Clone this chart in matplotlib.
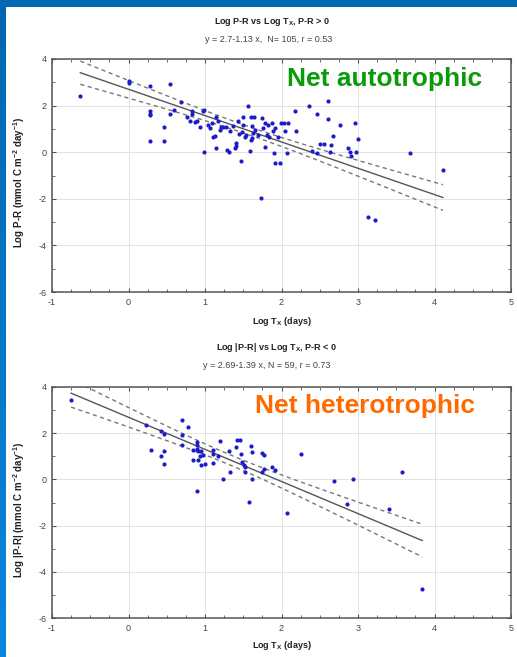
import numpy as np
import matplotlib
matplotlib.use("Agg")
import matplotlib.pyplot as plt
from matplotlib.ticker import MultipleLocator

plt.rcParams["font.family"] = ["Liberation Sans", "DejaVu Sans"]
plt.rcParams["axes.unicode_minus"] = False

# ---- data ----
# P-R > 0 (net autotrophic), N = 105
auto_x = [-0.63, 0.00, 0.00, 0.28, 0.28, 0.28, 0.28, 0.28, 0.46, 0.46,
          0.54, 0.54, 0.59, 0.69, 0.76, 0.80, 0.83, 0.83, 0.87, 0.93,
          0.97, 0.99, 0.99, 1.04, 1.09, 1.10, 1.13, 1.15, 1.15, 1.17,
          1.19, 1.21, 1.24, 1.27, 1.29, 1.31, 1.33, 1.36, 1.39, 1.40,
          1.41, 1.43, 1.45, 1.47, 1.49, 1.50, 1.50, 1.52, 1.53, 1.56,
          1.59, 1.60, 1.60, 1.61, 1.62, 1.63, 1.64, 1.65, 1.69, 1.73,
          1.74, 1.76, 1.78, 1.79, 1.81, 1.82, 1.84, 1.87, 1.89, 1.90,
          1.91, 1.92, 1.98, 1.95, 1.99, 2.03, 2.04, 2.07, 2.17, 2.19,
          2.36, 2.40, 2.46, 2.46, 2.50, 2.55, 2.61, 2.61, 2.63, 2.65,
          2.67, 2.77, 2.87, 2.90, 2.91, 2.97, 2.96, 3.00, 3.68, 4.11,
          3.13, 3.22, 1.07, 0.90, 2.09]
auto_y = [2.42, 3.05, 2.95, 2.85, 1.75, 1.65, 1.58, 0.50, 1.10, 0.50,
          2.91, 1.63, 1.82, 2.16, 1.49, 1.34, 1.75, 1.65, 1.30, 1.10,
          1.75, 1.80, 0.02, 1.17, 1.27, 0.67, 0.70, 1.53, 0.17, 1.32,
          0.96, 1.10, 1.07, 1.10, 0.10, 0.03, 0.89, 1.13, 0.17, 0.27,
          0.41, 1.32, 0.79, -0.36, 0.86, 1.53, 1.17, 0.67, 0.74, 1.99,
          0.07, 1.53, 0.53, 0.60, 1.13, 0.82, 1.53, 0.96, 0.74, -1.98,
          1.46, 1.03, 1.24, 0.24, 0.74, 1.17, 0.67, 1.24, 0.89, -0.04,
          1.03, -0.47, -0.47, 0.67, 1.24, 1.27, 0.89, -0.04, 1.75, 0.89,
          1.99, 0.07, -0.04, 1.63, 0.36, 0.36, 2.21, 1.43, 0.03, 0.31,
          0.70, 1.17, 0.20, 0.03, -0.16, 0.03, 1.24, 0.57, -0.04, -0.76,
          -2.80, -2.91, 1.06, 1.36, 1.27]

# P-R < 0 (net heterotrophic), N = 59
hetero_x = [-0.75, 0.23, 0.29, 0.43, 0.46, 0.47, 0.43, 0.47, 0.70, 0.70,
            0.70, 0.78, 0.84, 0.84, 0.89, 0.89, 0.90, 0.89, 0.91, 0.91,
            0.93, 0.95, 0.95, 0.98, 1.00, 1.10, 1.10, 1.10, 1.17, 1.20,
            1.23, 1.32, 1.33, 1.40, 1.42, 1.46, 1.47, 1.49, 1.51, 1.52,
            1.52, 1.58, 1.60, 1.61, 1.62, 1.74, 1.77, 1.74, 1.87, 1.92,
            2.07, 2.25, 2.69, 2.93, 2.86, 3.41, 3.58, 3.84, 1.77]
hetero_y = [3.42, 2.34, 1.28, 2.09, 1.95, 1.21, 1.00, 0.68, 2.55, 1.93,
            1.50, 2.27, 1.26, 0.85, 1.62, 1.47, 1.33, -0.52, 1.23, 0.85,
            1.00, 1.23, 0.61, 1.04, 0.68, 1.26, 1.08, 0.71, 1.00, 1.66,
            0.00, 1.21, 0.32, 1.41, 1.72, 1.69, 1.11, 0.75, 0.61, 0.53,
            0.32, -0.98, 1.43, 1.18, 0.00, 1.14, 1.04, 0.32, 0.54, 0.39,
            -1.46, 1.09, -0.07, 0.00, -1.08, -1.30, 0.32, -4.73, 0.44]

# stated fits: (intercept, slope, t-value for 95% band)
auto_fit = (2.7, -1.13, 1.983)
hetero_fit = (2.69, -1.39, 2.003)

W, H = 517, 657
fig = plt.figure(figsize=(W / 100, H / 100), dpi=100)
fig.patch.set_facecolor("white")

# blue slide frame (top strip + left strip with gradient)
bg = fig.add_axes([0, 0, 1, 1], zorder=-10)
bg.axis("off")
bg.add_patch(plt.Rectangle((0, 0), W, 7, color="#0067b1", lw=0))
grad = np.linspace(0, 1, 200).reshape(-1, 1)
cmap = matplotlib.colors.LinearSegmentedColormap.from_list("fr", ["#0067b1", "#0a86de"])
bg.imshow(grad, cmap=cmap, extent=(0, 6, H, 0), aspect="auto")
bg.set_xlim(0, W); bg.set_ylim(H, 0)


def panel(ax, xs, ys, fit, ylabel, note, note_color, note_xy):
    b0, b1, t = fit
    xs = np.asarray(xs); ys = np.asarray(ys)
    ax.scatter(xs, ys, s=9, color="#1c1cc8", lw=0, zorder=3)
    n = len(xs)
    res = ys - (b0 + b1 * xs)
    s = np.sqrt(np.sum(res ** 2) / (n - 2))
    xm = xs.mean(); sxx = np.sum((xs - xm) ** 2)
    xl = np.linspace(xs.min(), xs.max(), 100)
    yl = b0 + b1 * xl
    hw = t * s * np.sqrt(1 / n + (xl - xm) ** 2 / sxx)
    ax.plot(xl, yl, color="#555555", lw=1.0, zorder=2)
    ax.plot(xl, yl + hw, color="#777777", lw=1.0, ls=(0, (3, 2.5)), zorder=2)
    ax.plot(xl, yl - hw, color="#777777", lw=1.0, ls=(0, (3, 2.5)), zorder=2)

    ax.set_xlim(-1, 5); ax.set_ylim(-6, 4)
    ax.xaxis.set_major_locator(MultipleLocator(1))
    ax.xaxis.set_minor_locator(MultipleLocator(0.25))
    ax.yaxis.set_major_locator(MultipleLocator(2))
    ax.yaxis.set_minor_locator(MultipleLocator(1))
    ax.grid(True, which="major", color="#e3e3e3", lw=0.7)
    ax.set_axisbelow(True)
    ax.tick_params(which="both", direction="in", top=True, right=True,
                   colors="#555555", labelcolor="#444444", labelsize=6.5)
    ax.tick_params(which="major", length=3, pad=4)
    ax.tick_params(which="minor", length=2)
    for sp in ax.spines.values():
        sp.set_color("#555555"); sp.set_linewidth(1.1)
    ax.set_ylabel(ylabel, fontsize=7, fontweight="bold", color="#222222")
    ax.yaxis.set_label_coords(-0.054, 0.47)
    ax.text(note_xy[0], note_xy[1], note, color=note_color, fontsize=19,
            fontweight="bold", va="baseline", ha="left")


ax1 = fig.add_axes([52 / W, 1 - 292 / H, 459 / W, 233 / H])
panel(ax1, auto_x, auto_y, auto_fit,
      r"Log P-R (mmol C m$\mathregular{^{-2}}$ day$\mathregular{^{-1}}$)",
      "Net autotrophic", "#0a9a0a", (2.07, 2.85))
ax1.set_xlabel(r"Log T$\mathregular{_X}$ (days)", fontsize=6.5, fontweight="bold", color="#222222")
ax1.xaxis.set_label_coords(0.5, -0.1)

ax2 = fig.add_axes([52 / W, 1 - 618 / H, 459 / W, 231 / H])
panel(ax2, hetero_x, hetero_y, hetero_fit,
      r"Log |P-R| (mmol C m$\mathregular{^{-2}}$ day$\mathregular{^{-1}}$)",
      "Net heterotrophic", "#ff6a00", (1.66, 2.86))
ax2.set_xlabel(r"Log T$\mathregular{_X}$ (days)", fontsize=6.5, fontweight="bold", color="#222222")
ax2.xaxis.set_label_coords(0.5, -0.09)

fig.text(0.527, 1 - 22 / H, r"Log P-R vs Log T$\mathregular{_X}$, P-R > 0",
         ha="center", va="center", fontsize=6.5, fontweight="bold", color="#222222")
fig.text(0.52, 1 - 40 / H, "y = 2.7-1.13 x,  N= 105, r = 0.53",
         ha="center", va="center", fontsize=6.5, color="#444444")
fig.text(0.534, 1 - 348 / H, r"Log |P-R| vs Log T$\mathregular{_X}$, P-R < 0",
         ha="center", va="center", fontsize=6.5, fontweight="bold", color="#222222")
fig.text(0.515, 1 - 365 / H, "y = 2.69-1.39 x, N = 59, r = 0.73",
         ha="center", va="center", fontsize=6.5, color="#444444")

fig.savefig("out.png", dpi=100)
